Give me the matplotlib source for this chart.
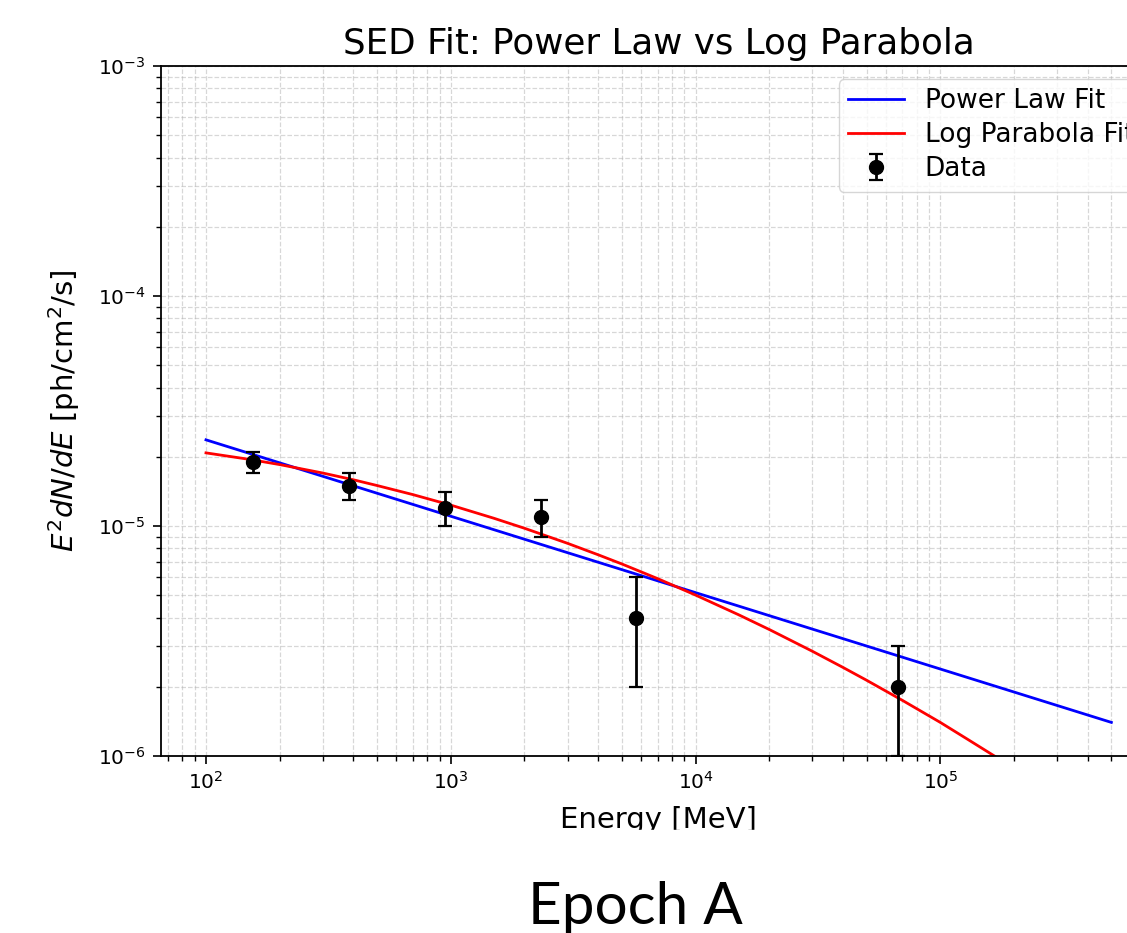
import matplotlib.pyplot as plt
from matplotlib.patches import Rectangle

# datos
energia = [155, 385, 945, 2335, 5730, 67400]
flujo = [1.9e-5, 1.5e-5, 1.2e-5, 1.1e-5, 4.0e-6, 2.0e-6]
error = [0.2e-5, 0.2e-5, 0.2e-5, 0.2e-5, 2.0e-6, 1.0e-6]

# ajuste ley de potencias (recta en log-log)
e_pl = [100, 5e5]
f_pl = [2.37e-5, 1.40e-6]

# ajuste log parabola
e_lp = [100, 150, 200, 300, 400, 500, 700, 1000, 1500, 2000, 3000, 4000, 5000, 7000,
        1e4, 1.5e4, 2e4, 3e4, 4e4, 5e4, 7e4, 1e5, 1.3e5, 1.7e5, 2.2e5]
f_lp = [2.08e-5, 1.95e-5, 1.85e-5, 1.70e-5, 1.589e-5, 1.50e-5, 1.37e-5, 1.233e-5,
        1.081e-5, 9.78e-6, 8.41e-6, 7.50e-6, 6.84e-6, 5.907e-6, 5.01e-6, 4.113e-6,
        3.55e-6, 2.855e-6, 2.429e-6, 2.135e-6, 1.746e-6, 1.40e-6, 1.178e-6, 9.86e-7, 8.27e-7]

fig = plt.figure(figsize=(11.27, 9.33), dpi=100)
ax = fig.add_axes([0.1426, 0.1897, 0.8837, 0.7395])

ax.plot(e_pl, f_pl, color='blue', lw=2.0, label='Power Law Fit')
ax.plot(e_lp, f_lp, color='red', lw=2.0, label='Log Parabola Fit')
ax.errorbar(energia, flujo, yerr=error, fmt='o', color='black', markersize=10,
            elinewidth=2.0, capsize=5, capthick=1.6, label='Data')

ax.set_xscale('log')
ax.set_yscale('log')
ax.set_ylim(1e-6, 1e-3)

ax.set_title('SED Fit: Power Law vs Log Parabola', fontsize=25.7, pad=9)
ax.set_xlabel('Energy [MeV]', fontsize=21, labelpad=9)
ax.set_ylabel(r'$E^2 dN/dE$ [ph/cm$^2$/s]', fontsize=21, labelpad=11)
ax.tick_params(which='major', labelsize=14.5, length=6, width=1.2, pad=5)
ax.tick_params(which='minor', length=3.5, width=1.0)
for s in ax.spines.values():
    s.set_linewidth(1.3)

ax.grid(True, which='both', ls='--', lw=0.9, alpha=0.5)
ax.legend(loc='upper right', fontsize=19, labelspacing=0.3, borderpad=0.35,
          handlelength=2.1)

# la captura esta recortada bajo la etiqueta del eje x
fig.add_artist(Rectangle((0, 0), 1, 103 / 933, transform=fig.transFigure,
                         color='white', zorder=5))
fig.text(635 / 1127, 9 / 933, 'Epoch A', ha='center', va='baseline',
         fontsize=42, family='Lato', zorder=10)

fig.savefig('out.png', dpi=100)
